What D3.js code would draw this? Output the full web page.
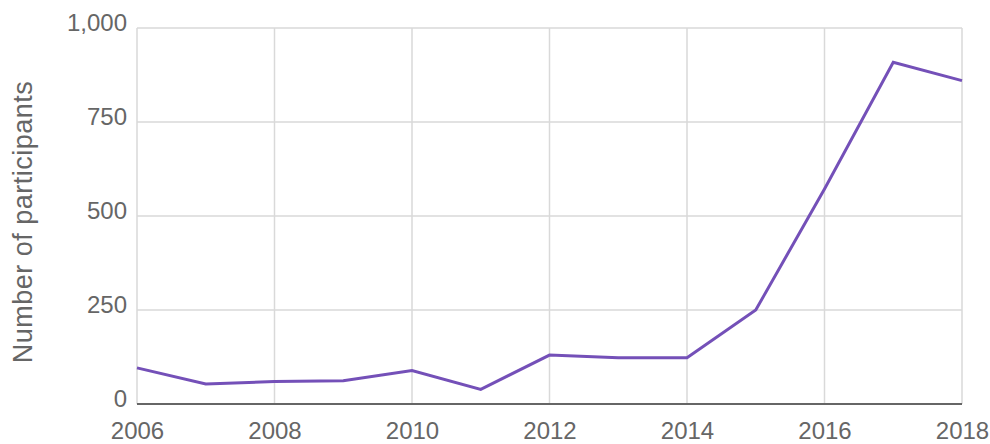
<!DOCTYPE html>
<html>
<head>
<meta charset="utf-8">
<script src="https://cdn.jsdelivr.net/npm/d3@7"></script>
<style>
  body { margin: 0; background: #fff; }
  svg text { font-family: "Liberation Sans", Arial, sans-serif; fill: #666; }
</style>
</head>
<body>
<div class="chart"></div>
<script>
// data
const years = [2006, 2007, 2008, 2009, 2010, 2011, 2012, 2013, 2014, 2015, 2016, 2017, 2018]
const participants = [96, 53, 60, 62, 89, 39, 130, 123, 123, 250, 572, 909, 860]
const yTicks = [0, 250, 500, 750, 1000]
const xTicks = [2006, 2008, 2010, 2012, 2014, 2016, 2018]

const width = 990
const height = 444
const margin = { top: 28, right: 28, bottom: 40, left: 137 }

const svg = d3.select('.chart').append('svg')
  .attr('width', width)
  .attr('height', height)

const x = d3.scaleLinear()
  .domain([2006, 2018])
  .range([margin.left, width - margin.right])

const y = d3.scaleLinear()
  .domain([0, 1000])
  .range([height - margin.bottom, margin.top])

// 网格线
const grid = svg.append('g').attr('class', 'grid')
grid.selectAll('line.h')
  .data(yTicks)
  .join('line')
  .attr('class', 'h')
  .attr('x1', margin.left)
  .attr('x2', width - margin.right)
  .attr('y1', d => y(d))
  .attr('y2', d => y(d))
  .attr('stroke', '#d9d9d9')
  .attr('stroke-width', 1.5)

grid.selectAll('line.v')
  .data(xTicks)
  .join('line')
  .attr('class', 'v')
  .attr('x1', d => x(d))
  .attr('x2', d => x(d))
  .attr('y1', margin.top)
  .attr('y2', height - margin.bottom)
  .attr('stroke', '#d9d9d9')
  .attr('stroke-width', 1.5)

// y axis
const yAxis = svg.append('g')
  .attr('transform', `translate(${margin.left},0)`)
  .call(d3.axisLeft(y).tickValues(yTicks).tickSize(0).tickPadding(10).tickFormat(d3.format(',')))
yAxis.select('.domain').remove()
yAxis.selectAll('text').style('font-size', '24px').attr('dy', '0.1em')

// x axis
const xAxis = svg.append('g')
  .attr('transform', `translate(0,${height - margin.bottom})`)
  .call(d3.axisBottom(x).tickValues(xTicks).tickSize(0).tickPadding(18).tickFormat(d3.format('d')))
xAxis.select('.domain').remove()
xAxis.selectAll('text').style('font-size', '24px')

// baseline
svg.append('line')
  .attr('x1', margin.left)
  .attr('x2', width - margin.right)
  .attr('y1', y(0))
  .attr('y2', y(0))
  .attr('stroke', '#666')
  .attr('stroke-width', 2)

// y title
svg.append('text')
  .attr('transform', 'translate(32,222) rotate(-90)')
  .attr('text-anchor', 'middle')
  .style('font-size', '27px')
  .style('letter-spacing', '0.5px')
  .text('Number of participants')

// the line
const line = d3.line()
  .x((d, i) => x(years[i]))
  .y(d => y(d))

svg.append('path')
  .datum(participants)
  .attr('d', line)
  .attr('fill', 'none')
  .attr('stroke', '#7450b8')
  .attr('stroke-width', 3)
  .attr('stroke-linejoin', 'miter')
</script>
</body>
</html>
